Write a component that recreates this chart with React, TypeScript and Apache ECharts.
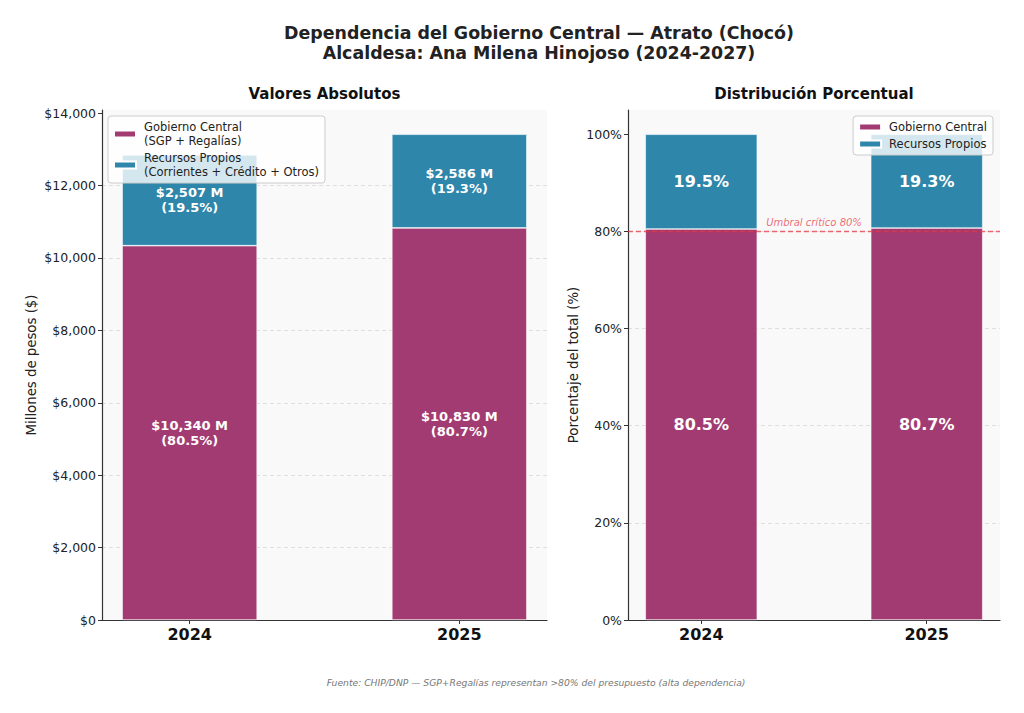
import React, { useEffect, useRef } from "react";
import * as echarts from "echarts";

const years = ["2024", "2025"];
const gobiernoCentral = [10340, 10830];
const recursosPropios = [2507, 2586];
const pctGobierno = [80.5, 80.7];
const pctPropios = [19.5, 19.3];
const absTicks = [0, 2000, 4000, 6000, 8000, 10000, 12000, 14000];
const pctTicks = [0, 20, 40, 60, 80, 100];
const umbral = 80;
const absMax = 14087;
const pctMax = 105;

const FONT = "DejaVu Sans";
const C_GC = "#A23B72";
const C_RP = "#2E86AB";
const C_RED = "#e63946";

const fmtNum = (v: number) => v.toLocaleString("en-US");

export default function App() {
  const ref = useRef<HTMLDivElement>(null);
  useEffect(() => {
    document.body.style.margin = "0";
    const chart = echarts.init(ref.current!, null, { renderer: "svg" });

    const xAxisCommon = (gridIndex: number) => ({
      type: "value",
      gridIndex,
      min: -0.325,
      max: 1.325,
      splitLine: { show: false },
      axisLine: { show: true, onZero: false, lineStyle: { color: "#333", width: 1.2 } },
      axisTick: { show: true, customValues: [0, 1], length: 4, lineStyle: { color: "#333" } },
      axisLabel: {
        customValues: [0, 1],
        formatter: (v: number) => years[Math.round(v)] ?? "",
        fontFamily: FONT,
        fontSize: 16,
        fontWeight: "bold",
        color: "#111",
        margin: 6,
      },
    });

    const yAxisCommon = (gridIndex: number, max: number, ticks: number[], fmt: (v: number) => string, name: string, nameGap: number) => ({
      type: "value",
      gridIndex,
      min: 0,
      max,
      name,
      nameLocation: "middle",
      nameGap,
      nameTextStyle: { fontFamily: FONT, fontSize: 13.3, color: "#222" },
      axisLine: { show: true, onZero: false, lineStyle: { color: "#333", width: 1.2 } },
      axisTick: { show: true, customValues: ticks, length: 4, lineStyle: { color: "#333" } },
      axisLabel: { customValues: ticks, formatter: fmt, fontFamily: FONT, fontSize: 12.5, color: "#222", margin: 6 },
      splitLine: {
        show: true,
        showMaxLine: false,
        showMinLine: false,
        lineStyle: { color: "#d8d8d8", type: [4, 3], width: 0.8 },
      },
    });

    const labelStyle = (size: number) => ({
      show: true,
      position: "inside",
      color: "#fff",
      fontFamily: FONT,
      fontWeight: "bold",
      fontSize: size,
      lineHeight: size + 2,
    });

    const legendCommon = {
      orient: "vertical",
      top: 116,
      data: ["Gobierno Central", "Recursos Propios"],
      icon: "rect",
      itemWidth: 22,
      itemHeight: 7,
      itemGap: 3,
      padding: [4, 6, 4, 5],
      backgroundColor: "rgba(255,255,255,0.8)",
      borderColor: "#ccc",
      borderWidth: 1,
      borderRadius: 3,
      selectedMode: false,
    };

    const barItem = (color: string) => ({ color, borderColor: "#fff", borderWidth: 0.6 });

    chart.setOption({
      animation: false,
      backgroundColor: "#fff",
      title: [
        {
          text: "Dependencia del Gobierno Central — Atrato (Chocó)\nAlcaldesa: Ana Milena Hinojoso (2024-2027)",
          left: 534,
          textAlign: "center",
          top: 18,
          textStyle: { fontFamily: FONT, fontSize: 17.4, fontWeight: "bold", color: "#222", lineHeight: 20 },
        },
        {
          text: "Valores Absolutos",
          left: 319.5,
          textAlign: "center",
          top: 81,
          textStyle: { fontFamily: FONT, fontSize: 15, fontWeight: "bold", color: "#111" },
        },
        {
          text: "Distribución Porcentual",
          left: 809,
          textAlign: "center",
          top: 81,
          textStyle: { fontFamily: FONT, fontSize: 15, fontWeight: "bold", color: "#111" },
        },
        {
          text: "Fuente: CHIP/DNP — SGP+Regalías representan >80% del presupuesto (alta dependencia)",
          left: 531,
          textAlign: "center",
          top: 673,
          textStyle: { fontFamily: FONT, fontSize: 9.2, fontStyle: "italic", fontWeight: "normal", color: "#777" },
        },
      ],
      legend: [
        {
          ...legendCommon,
          left: 108,
          formatter: (n: string) =>
            n === "Gobierno Central" ? "Gobierno Central\n(SGP + Regalías)" : "Recursos Propios\n(Corrientes + Crédito + Otros)",
          textStyle: { fontFamily: FONT, fontSize: 11.5, color: "#222", lineHeight: 14, padding: [0, 0, 0, 3] },
        },
        {
          ...legendCommon,
          right: 31,
          textStyle: { fontFamily: FONT, fontSize: 11.5, color: "#222", lineHeight: 14, padding: [0, 0, 0, 3] },
        },
      ],
      grid: [
        { left: 102, top: 110, width: 445, height: 510, show: true, backgroundColor: "#f9f9f9", borderWidth: 0 },
        { left: 628, top: 110, width: 372, height: 510, show: true, backgroundColor: "#f9f9f9", borderWidth: 0 },
      ],
      xAxis: [xAxisCommon(0), xAxisCommon(1)],
      yAxis: [
        yAxisCommon(0, absMax, absTicks, (v: number) => "$" + fmtNum(v), "Millones de pesos ($)", 64),
        yAxisCommon(1, pctMax, pctTicks, (v: number) => v + "%", "Porcentaje del total (%)", 48),
      ],
      series: [
        {
          name: "Gobierno Central",
          type: "bar",
          xAxisIndex: 0,
          yAxisIndex: 0,
          stack: "abs",
          barWidth: 135,
          encode: { x: 1, y: 0 },
          data: gobiernoCentral.map((v, i) => [v, i]),
          itemStyle: barItem(C_GC),
          label: {
            ...labelStyle(13),
            formatter: (p: any) => `$${fmtNum(gobiernoCentral[p.dataIndex])} M\n(${pctGobierno[p.dataIndex].toFixed(1)}%)`,
          },
        },
        {
          name: "Recursos Propios",
          type: "bar",
          xAxisIndex: 0,
          yAxisIndex: 0,
          stack: "abs",
          barWidth: 135,
          encode: { x: 1, y: 0 },
          data: recursosPropios.map((v, i) => [v, i]),
          itemStyle: barItem(C_RP),
          label: {
            ...labelStyle(13),
            formatter: (p: any) => `$${fmtNum(recursosPropios[p.dataIndex])} M\n(${pctPropios[p.dataIndex].toFixed(1)}%)`,
          },
        },
        {
          name: "Gobierno Central",
          type: "bar",
          xAxisIndex: 1,
          yAxisIndex: 1,
          stack: "pct",
          barWidth: 112,
          encode: { x: 1, y: 0 },
          data: pctGobierno.map((v, i) => [v, i]),
          itemStyle: barItem(C_GC),
          label: { ...labelStyle(16), formatter: (p: any) => `${pctGobierno[p.dataIndex].toFixed(1)}%` },
        },
        {
          name: "Recursos Propios",
          type: "bar",
          xAxisIndex: 1,
          yAxisIndex: 1,
          stack: "pct",
          barWidth: 112,
          encode: { x: 1, y: 0 },
          data: pctPropios.map((v, i) => [v, i]),
          itemStyle: barItem(C_RP),
          label: { ...labelStyle(16), formatter: (p: any) => `${pctPropios[p.dataIndex].toFixed(1)}%` },
          markLine: {
            silent: true,
            symbol: ["none", "none"],
            z: 10,
            label: {
              show: true,
              position: "insideMiddleTop",
              formatter: "Umbral crítico 80%",
              color: C_RED,
              fontFamily: FONT,
              fontStyle: "italic",
              fontSize: 10,
              distance: 4,
            },
            data: [
              {
                yAxis: umbral,
                lineStyle: { color: C_RED, type: [5, 3], width: 1.3, opacity: 0.75 },
              },
            ],
          },
        },
      ],
    });
    return () => chart.dispose();
  }, []);
  return <div ref={ref} style={{ width: 1024, height: 713 }} />;
}
